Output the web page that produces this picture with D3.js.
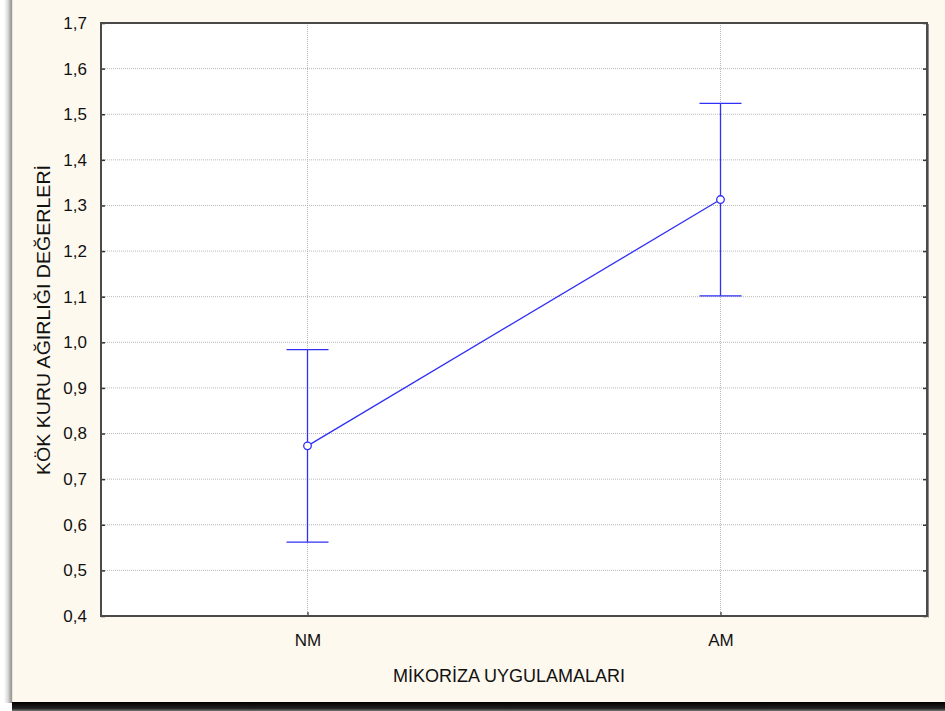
<!DOCTYPE html>
<html>
<head>
<meta charset="utf-8">
<script src="https://cdn.jsdelivr.net/npm/d3@7"></script>
<style>
  html, body { margin: 0; padding: 0; background: #ffffff; }
  svg { display: block; }
  text { font-family: "Liberation Sans", Arial, sans-serif; fill: #111; }
</style>
</head>
<body>
<script>
// Group means with ±error for the two mycorrhiza treatments
const categories = ["NM", "AM"];
const means = [0.773, 1.313];
const errors = [0.211, 0.211];
const yTicks = [0.4, 0.5, 0.6, 0.7, 0.8, 0.9, 1.0, 1.1, 1.2, 1.3, 1.4, 1.5, 1.6, 1.7];
const xTitle = "MİKORİZA UYGULAMALARI";
const yTitle = "KÖK KURU AĞIRLIĞI DEĞERLERİ";

const W = 945, H = 711;
const plot = { left: 101, right: 927, top: 23, bottom: 616 };

const svg = d3.select("body").append("svg").attr("width", W).attr("height", H);

const defs = svg.append("defs");
const lg = defs.append("linearGradient").attr("id", "shadeL").attr("x1", 0).attr("x2", 1);
lg.append("stop").attr("offset", "0").attr("stop-color", "#ffffff");
lg.append("stop").attr("offset", "0.5").attr("stop-color", "#d8d8d8");
lg.append("stop").attr("offset", "1").attr("stop-color", "#8a8a8a");
const bg = defs.append("linearGradient").attr("id", "shadeB").attr("x1", 0).attr("x2", 0).attr("y1", 0).attr("y2", 1);
bg.append("stop").attr("offset", "0").attr("stop-color", "#000000");
bg.append("stop").attr("offset", "0.7").attr("stop-color", "#202020");
bg.append("stop").attr("offset", "1").attr("stop-color", "#777777");

// window panel with its drop shadow
svg.append("rect").attr("x", 4).attr("y", 0).attr("width", 8).attr("height", 703).attr("fill", "url(#shadeL)");
svg.append("rect").attr("x", 12).attr("y", 0).attr("width", W - 12).attr("height", 702).attr("fill", "#fef9ef");
svg.append("rect").attr("x", 11).attr("y", 0).attr("width", 1.2).attr("height", 702).attr("fill", "#9a9a9a");
svg.append("rect").attr("x", 12).attr("y", 702).attr("width", W - 12).attr("height", 9).attr("fill", "url(#shadeB)");

// plot area
svg.append("rect")
  .attr("x", plot.left).attr("y", plot.top)
  .attr("width", plot.right - plot.left).attr("height", plot.bottom - plot.top)
  .attr("fill", "#ffffff");

const x = d3.scalePoint().domain(categories).range([plot.left, plot.right]).padding(0.5);
const y = d3.scaleLinear().domain([0.4, 1.7]).range([plot.bottom, plot.top]);
const fmt = d => d3.format(".1f")(d).replace(".", ",");

// gridlines
const grid = svg.append("g");
grid.selectAll("line.h").data(yTicks.slice(1, -1)).join("line")
  .attr("x1", plot.left).attr("x2", plot.right)
  .attr("y1", d => y(d)).attr("y2", d => y(d))
  .attr("stroke", "#b8b8b8").attr("stroke-width", 1).attr("stroke-dasharray", "1,1");
grid.selectAll("line.v").data(categories).join("line")
  .attr("x1", d => x(d)).attr("x2", d => x(d))
  .attr("y1", plot.top).attr("y2", plot.bottom)
  .attr("stroke", "#b8b8b8").attr("stroke-width", 1).attr("stroke-dasharray", "1,1");

// axes (inward ticks)
const yAxisL = d3.axisLeft(y).tickValues(yTicks).tickFormat(fmt).tickSizeInner(-4).tickSizeOuter(0).tickPadding(14);
const gy = svg.append("g").attr("transform", `translate(${plot.left},0)`).call(yAxisL);
gy.select(".domain").remove();
gy.selectAll(".tick line").attr("stroke", "#333").attr("stroke-width", 1.5);
gy.selectAll(".tick text").attr("font-size", 17).attr("fill", "#111")
  .style("font-family", "'Liberation Sans', Arial, sans-serif");

const yAxisR = d3.axisRight(y).tickValues(yTicks).tickFormat("").tickSizeInner(-4).tickSizeOuter(0);
const gyr = svg.append("g").attr("transform", `translate(${plot.right},0)`).call(yAxisR);
gyr.select(".domain").remove();
gyr.selectAll(".tick line").attr("stroke", "#333").attr("stroke-width", 1.5);

const xAxis = d3.axisBottom(x).tickSizeInner(-4).tickSizeOuter(0).tickPadding(18);
const gx = svg.append("g").attr("transform", `translate(0,${plot.bottom})`).call(xAxis);
gx.select(".domain").remove();
gx.selectAll(".tick line").attr("stroke", "#333").attr("stroke-width", 1.2);
gx.selectAll(".tick text").attr("font-size", 17).attr("fill", "#111")
  .style("font-family", "'Liberation Sans', Arial, sans-serif");

// frame
svg.append("rect")
  .attr("x", plot.left).attr("y", plot.top)
  .attr("width", plot.right - plot.left).attr("height", plot.bottom - plot.top)
  .attr("fill", "none").attr("stroke", "#4a4a4a").attr("stroke-width", 2);
svg.append("line").attr("x1", plot.right + 1.5).attr("x2", plot.right + 1.5)
  .attr("y1", plot.top + 1).attr("y2", plot.bottom + 1.5)
  .attr("stroke", "#8a8a9a").attr("stroke-width", 1);

// error bars
const blue = "#2f2ff5";
const eb = svg.append("g").attr("stroke", blue).attr("stroke-width", 1.3).attr("fill", "none");
categories.forEach((c, i) => {
  const cx = x(c);
  eb.append("line").attr("x1", cx).attr("x2", cx)
    .attr("y1", y(means[i] - errors[i])).attr("y2", y(means[i] + errors[i]));
  [means[i] - errors[i], means[i] + errors[i]].forEach(v => {
    eb.append("line").attr("x1", cx - 21).attr("x2", cx + 21).attr("y1", y(v)).attr("y2", y(v));
  });
});

// mean line and markers
const line = d3.line().x((d, i) => x(categories[i])).y(d => y(d));
svg.append("path").datum(means).attr("d", line)
  .attr("fill", "none").attr("stroke", blue).attr("stroke-width", 1.3);
svg.selectAll("circle.m").data(means).join("circle")
  .attr("cx", (d, i) => x(categories[i])).attr("cy", d => y(d)).attr("r", 3.8)
  .attr("fill", "#ffffff").attr("stroke", blue).attr("stroke-width", 1.3);

// axis titles
svg.append("text").attr("x", 509).attr("y", 682)
  .attr("text-anchor", "middle").attr("font-size", 18)
  .attr("textLength", 232).attr("lengthAdjust", "spacingAndGlyphs")
  .text(xTitle);
svg.append("text").attr("transform", `translate(50,320) rotate(-90)`)
  .attr("text-anchor", "middle").attr("font-size", 19)
  .attr("textLength", 310).attr("lengthAdjust", "spacingAndGlyphs")
  .text(yTitle);
</script>
</body>
</html>
